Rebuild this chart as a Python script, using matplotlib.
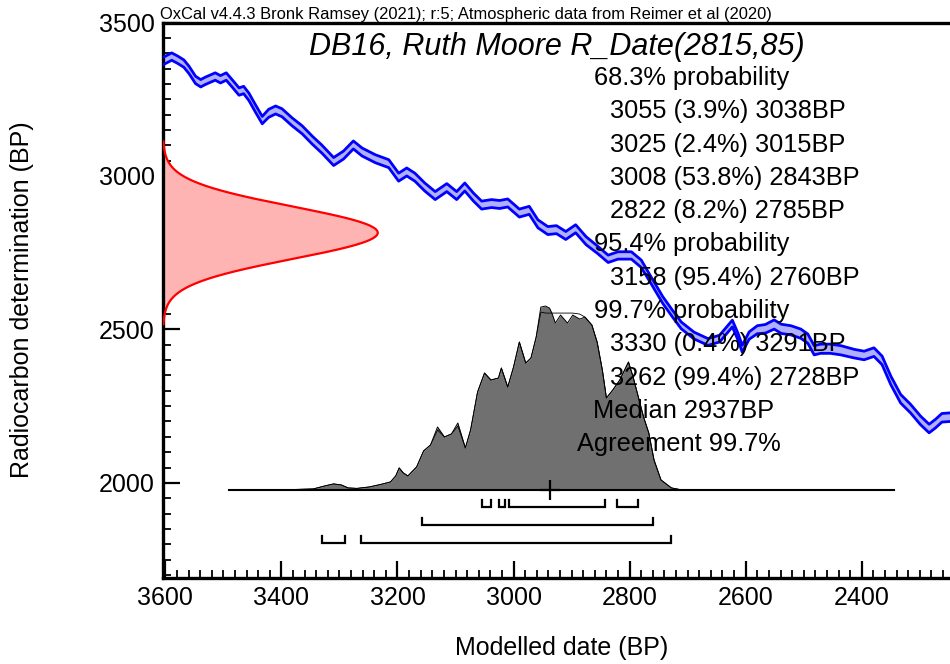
import numpy as np
import matplotlib
matplotlib.use("Agg")
import matplotlib.pyplot as plt
from matplotlib.ticker import MultipleLocator

plt.rcParams['font.family'] = ['Liberation Sans', 'DejaVu Sans']

# ---- Calibration curve (IntCal20 segment): calendar BP, 14C BP, 1-sigma ----
cal_year = [3604, 3589, 3579, 3568, 3559, 3548, 3539, 3531, 3514, 3505, 3495, 3485,
            3473, 3465, 3456, 3445, 3433, 3422, 3410, 3399, 3382, 3364, 3347, 3330,
            3310, 3293, 3276, 3261, 3238, 3215, 3198, 3184, 3170, 3153, 3135, 3115,
            3098, 3084, 3069, 3055, 3038, 3024, 3010, 2990, 2973, 2958, 2941, 2926,
            2910, 2893, 2875, 2855, 2837, 2820, 2797, 2780, 2763, 2743, 2726, 2711,
            2689, 2665, 2645, 2623, 2613, 2606, 2594, 2580, 2566, 2551, 2539, 2522,
            2505, 2493, 2482, 2471, 2454, 2436, 2413, 2396, 2379, 2365, 2350, 2333,
            2316, 2299, 2284, 2273, 2262, 2248]
cal_c14 = [3374, 3389, 3379, 3366, 3345, 3313, 3302, 3310, 3324, 3315, 3324, 3302,
           3275, 3280, 3258, 3221, 3182, 3204, 3215, 3206, 3177, 3150, 3117, 3087,
           3047, 3068, 3101, 3078, 3056, 3040, 2996, 3013, 2996, 2964, 2936, 2962,
           2936, 2964, 2931, 2905, 2910, 2907, 2912, 2879, 2888, 2844, 2822, 2825,
           2806, 2828, 2789, 2759, 2730, 2741, 2741, 2714, 2660, 2596, 2551, 2513,
           2480, 2459, 2470, 2519, 2475, 2437, 2480, 2499, 2502, 2516, 2502, 2497,
           2486, 2470, 2432, 2437, 2437, 2432, 2421, 2415, 2426, 2399, 2334, 2274,
           2242, 2204, 2177, 2193, 2212, 2214]
cal_sigma = [12, 12, 12, 12, 12, 12, 12, 12, 12, 12, 12, 12,
             12, 12, 12, 12, 12, 13, 13, 13, 13, 13, 13, 13,
             13, 13, 13, 13, 13, 13, 13, 13, 13, 13, 13, 13,
             13, 13, 13, 13, 13, 13, 13, 13, 13, 13, 13, 13,
             13, 13, 13, 12, 12, 12, 12, 12, 11, 11, 11, 11,
             11, 11, 11, 11, 11, 11, 12, 13, 14, 15, 15, 15,
             15, 15, 15, 15, 15, 15, 14, 14, 14, 14, 14, 14,
             14, 14, 14, 14, 14, 14]

# ---- Radiocarbon measurement ----
r_mean, r_sigma = 2815, 85

# ---- Calibrated distributions (relative probability) ----
dist_year = [3490, 3400, 3345, 3325, 3310, 3297, 3285, 3270, 3248, 3225, 3212, 3203,
             3197, 3190, 3182, 3167, 3155, 3143, 3131, 3119, 3107, 3096, 3083, 3074,
             3062, 3050, 3039, 3026, 3021, 3010, 3000, 2990, 2979, 2970, 2961, 2953,
             2945, 2938, 2934, 2928, 2919, 2907, 2898, 2886, 2877, 2865, 2856, 2847,
             2840, 2829, 2817, 2802, 2794, 2785, 2776, 2767, 2758, 2746, 2728, 2710,
             2345]
posterior = [0, 0, 1, 4, 6, 5, 2, 1.5, 3, 6, 8, 14,
             22, 17, 14, 23, 39, 45, 63, 53, 56, 67, 42, 60,
             98, 117, 110, 112, 122, 103, 123, 148, 127, 132, 153, 183,
             184, 182, 177, 167, 175, 167, 175, 171, 173, 165, 148, 120,
             92, 100, 110, 128, 113, 93, 73, 57, 30, 10, 2, 0,
             0]
likelihood = [0, 0, 1, 4, 6, 5, 2, 1.5, 3, 6, 8, 14,
              22, 17, 14, 23, 39, 45, 60, 53, 56, 64, 42, 60,
              98, 117, 110, 112, 122, 103, 123, 148, 127, 132, 153, 178,
              177, 177, 177, 177, 177, 177, 177, 176, 173, 165, 148, 120,
              92, 100, 110, 128, 113, 93, 73, 57, 30, 10, 2, 0,
              0]

# ---- Highest posterior density ranges ----
hpd_68 = [(3055, 3038), (3025, 3015), (3008, 2843), (2822, 2785)]
hpd_95 = [(3158, 2760)]
hpd_99 = [(3330, 3291), (3262, 2728)]
median_bp = 2937

summary_lines = [
    ("68.3% probability", 594),
    ("3055 (3.9%) 3038BP", 610),
    ("3025 (2.4%) 3015BP", 610),
    ("3008 (53.8%) 2843BP", 610),
    ("2822 (8.2%) 2785BP", 610),
    ("95.4% probability", 594),
    ("3158 (95.4%) 2760BP", 610),
    ("99.7% probability", 594),
    ("3330 (0.4%) 3291BP", 610),
    ("3262 (99.4%) 2728BP", 610),
    ("Median 2937BP", 593),
    ("Agreement 99.7%", 577),
]

W, H = 950, 664
fig = plt.figure(figsize=(W / 100, H / 100), dpi=100)
ax = fig.add_axes([163 / W, 1 - 578 / H, (W - 163) / W, (578 - 22.5) / H])
X_LEFT, X_RIGHT = 3604, 2248
ax.set_xlim(X_LEFT, X_RIGHT)
ax.set_ylim(1690, 3500)

# calibration curve band
cy = np.array(cal_year, float)
cc = np.array(cal_c14, float)
cs = np.array(cal_sigma, float)
ax.fill_between(cy, cc - cs, cc + cs, color='#b0b0ff', lw=0, zorder=2)
for edge in (cc + cs, cc - cs):
    ax.plot(cy, edge, color='#0000ff', lw=2.0, solid_joinstyle='round',
            solid_capstyle='round', zorder=3)

# radiocarbon measurement on the y axis
ry = np.linspace(r_mean - 3.5 * r_sigma, r_mean + 3.5 * r_sigma, 400)
rpdf = np.exp(-0.5 * ((ry - r_mean) / r_sigma) ** 2)
rx = X_LEFT - 370 * rpdf
ax.fill_betweenx(ry, X_LEFT, rx, color='#ffb4b4', lw=0, zorder=2)
ax.plot(rx, ry, color='#ff0000', lw=1.6, zorder=3)

# calibrated distribution
base = 1977
dist_h = 599
dy = np.array(dist_year, float)
post = np.array(posterior, float)
like = np.array(likelihood, float)
top = post.max()
ax.fill_between(dy, base, base + post / top * dist_h, color='#707070', lw=0, zorder=4)
ax.plot(dy, base + post / top * dist_h, color='black', lw=0.7, zorder=5)
ax.plot(dy, base + like / top * dist_h, color='black', lw=0.6, zorder=5)
ax.plot([dist_year[0], dist_year[-1]], [base, base], color='black', lw=1.5, zorder=5)
ax.plot([median_bp], [base], marker='+', ms=15, mew=1.6, color='black', zorder=6)

# range brackets
tick_h = 24
for ranges, level in ((hpd_68, 1920), (hpd_95, 1863), (hpd_99, 1804)):
    for a, b in ranges:
        ax.plot([a, a, b, b], [level + tick_h, level, level, level + tick_h],
                color='black', lw=1.6, solid_joinstyle='miter', zorder=5)

# axes styling
for side in ('left', 'bottom', 'top'):
    ax.spines[side].set_linewidth(2.4)
ax.spines['right'].set_visible(False)
ax.xaxis.set_major_locator(MultipleLocator(200))
ax.xaxis.set_minor_locator(MultipleLocator(20))
ax.yaxis.set_major_locator(MultipleLocator(500))
ax.yaxis.set_minor_locator(MultipleLocator(50))
ax.tick_params(which='major', direction='in', length=12, width=1.6,
               labelsize=18, pad=6, top=False, right=False)
ax.tick_params(which='minor', direction='in', length=5.5, width=1.3,
               top=False, right=False)

fig.text(562 / W, 1 - 648 / H, "Modelled date (BP)", fontsize=18,
         ha='center', va='center')
fig.text(22 / W, 1 - 300 / H, "Radiocarbon determination (BP)", fontsize=18,
         ha='center', va='center', rotation=90)
fig.text(160 / W, 1 - 14 / H,
         "OxCal v4.4.3 Bronk Ramsey (2021); r:5; Atmospheric data from Reimer et al (2020)",
         fontsize=11.9, ha='left', va='center')
fig.text(557 / W, 1 - 47 / H, "DB16, Ruth Moore R_Date(2815,85)", fontsize=22,
         style='italic', ha='center', va='center')

y0, dy_line = 78, 33.3
for i, (txt, xpx) in enumerate(summary_lines):
    fig.text(xpx / W, 1 - (y0 + i * dy_line) / H, txt, fontsize=18.3,
             ha='left', va='center', zorder=10)

fig.savefig("out.png", dpi=100)
